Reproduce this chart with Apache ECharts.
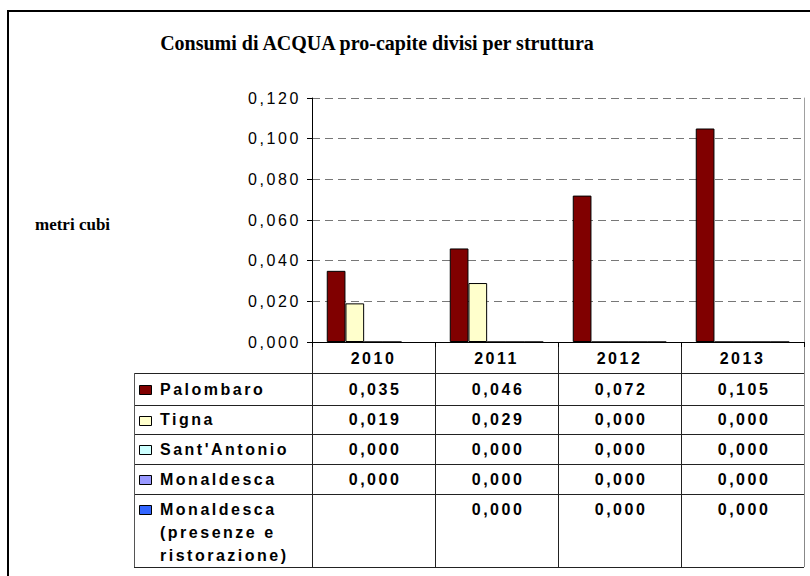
<!DOCTYPE html>
<html>
<head>
<meta charset="utf-8">
<script src="https://cdn.jsdelivr.net/npm/echarts@6/dist/echarts.min.js"></script>
<style>
  html, body { margin: 0; padding: 0; background: #fff; }
  #chart { width: 810px; height: 576px; }
  /* Excel-like wide spacing for the sans text */
  #chart text[style*="Liberation Sans"] { letter-spacing: 2.5px; }
  #chart text[style*="Arial"] { letter-spacing: 2.6px; }
</style>
</head>
<body>
<div id="chart"></div>
<script>
// anni (categorie)
const years = ['2010', '2011', '2012', '2013'];
// strutture (serie)
const seriesNames = ['Palombaro', 'Tigna', "Sant'Antonio", 'Monaldesca', 'Monaldesca (presenze e ristorazione)'];
// etichette righe della tabella dati
const rowLabels = ['Palombaro', 'Tigna', "Sant'Antonio", 'Monaldesca', 'Monaldesca\n(presenze e\nristorazione)'];
// valori in metri cubi
const palombaro = [0.035, 0.046, 0.072, 0.105];
const tigna = [0.019, 0.029, 0.000, 0.000];
const santAntonio = [0.000, 0.000, 0.000, 0.000];
const monaldesca = [0.000, 0.000, 0.000, 0.000];
const monaldescaPresenze = [null, 0.000, 0.000, 0.000];
// asse y
const yMin = 0, yMax = 0.12, yStep = 0.02;

const allValues = [palombaro, tigna, santAntonio, monaldesca, monaldescaPresenze];
const colors = ['#800000', '#FFFFCC', '#CCFFFF', '#9999FF', '#3366FF'];
const SANS = '"Liberation Sans", sans-serif';
const SANS_Y = 'Arial, sans-serif';
const SERIF = '"Liberation Serif", "Times New Roman", serif';

const fmt = v => (v === null || v === undefined) ? '' : v.toFixed(3).replace('.', ',');

const chart = echarts.init(document.getElementById('chart'), null, { renderer: 'svg' });

const option = {
  animation: false,
  backgroundColor: '#fff',
  title: {
    text: 'Consumi di ACQUA pro-capite divisi per struttura',
    left: 372,
    top: 28,
    textAlign: 'center',
    textStyle: { fontFamily: SERIF, fontWeight: 'bold', fontSize: 20, color: '#000' }
  },
  grid: {
    left: 312, right: 6, top: 98, bottom: 234,
    containLabel: false,
    outerBoundsMode: 'none'
  },
  xAxis: {
    type: 'category',
    data: years,
    axisLine: { lineStyle: { color: '#000', width: 1 } },
    axisTick: { show: true, length: 5, lineStyle: { color: '#000' } },
    axisLabel: {
      margin: 8,
      fontFamily: SANS, fontWeight: 'bold', fontSize: 16, color: '#000'
    },
    splitLine: { show: false }
  },
  yAxis: [{
    type: 'value',
    min: yMin, max: yMax, interval: yStep,
    axisLine: { show: true, lineStyle: { color: '#000' } },
    axisTick: { show: true, length: 5, lineStyle: { color: '#000' } },
    axisLabel: {
      margin: 11,
      formatter: fmt,
      fontFamily: SANS_Y, fontSize: 16, color: '#000'
    },
    splitLine: { show: true, lineStyle: { color: '#777', type: [8, 5], width: 1 } }
  }, {
    type: 'value',
    position: 'right',
    min: yMin, max: yMax, interval: yStep,
    axisLine: { show: true, lineStyle: { color: '#a0a0a0' } },
    axisTick: { show: false },
    axisLabel: { show: false },
    splitLine: { show: false }
  }],
  series: seriesNames.map((name, i) => ({
    name: name,
    type: 'bar',
    yAxisIndex: 0,
    data: allValues[i],
    barGap: '0%',
    barCategoryGap: '24%',
    itemStyle: { color: colors[i], borderColor: '#000', borderWidth: 1 }
  }))
};
chart.setOption(option);

// tabella dati sotto il grafico, allineata alle categorie dell'asse x
function drawTable() {
  const c0 = chart.convertToPixel({ xAxisIndex: 0 }, years[0]);
  const c1 = chart.convertToPixel({ xAxisIndex: 0 }, years[1]);
  const colW = c1 - c0;
  const plotLeft = c0 - colW / 2;
  const plotRight = plotLeft + colW * years.length;
  const axisY = chart.convertToPixel({ yAxisIndex: 0 }, 0);
  const tableLeft = 134;
  const headerH = 31;
  const rowH = [32, 29, 30, 30, 73];
  const rowTop = [axisY + headerH];
  rowH.forEach((h, i) => rowTop.push(rowTop[i] + h));
  const tableBottom = rowTop[rowTop.length - 1];
  const els = [];
  const line = (x1, y1, x2, y2, color) => els.push({
    type: 'line', silent: true,
    shape: { x1: x1, y1: y1, x2: x2, y2: y2 },
    style: { stroke: color || '#222', lineWidth: 1 }
  });

  // righe orizzontali
  rowTop.forEach(y => line(tableLeft, Math.round(y) + 0.5, plotRight, Math.round(y) + 0.5));
  // colonne
  line(tableLeft + 0.5, rowTop[0], tableLeft + 0.5, tableBottom, '#555');
  for (let i = 0; i <= years.length; i++) {
    const x = Math.round(plotLeft + i * colW) + 0.5;
    line(x, axisY, x, tableBottom, i === years.length ? '#888' : '#222');
  }

  // celle
  seriesNames.forEach((name, r) => {
    const multi = rowLabels[r].indexOf('\n') >= 0;
    const cy = multi ? rowTop[r] + 15 : rowTop[r] + rowH[r] / 2;
    // chiave colore
    els.push({
      type: 'rect', silent: true,
      shape: { x: 139.5, y: Math.round(cy - 4) + 0.5, width: 12, height: 9 },
      style: { fill: colors[r], stroke: '#000', lineWidth: 1 }
    });
    els.push({
      type: 'text', silent: true,
      x: 160, y: multi ? rowTop[r] + 3.5 : cy,
      style: {
        text: rowLabels[r],
        fontFamily: SANS, fontWeight: 'bold', fontSize: 16, fill: '#000',
        lineHeight: 23,
        textAlign: 'left', textVerticalAlign: multi ? 'top' : 'middle'
      }
    });
    allValues[r].forEach((v, j) => {
      els.push({
        type: 'text', silent: true,
        x: chart.convertToPixel({ xAxisIndex: 0 }, years[j]) + 1.5, y: cy,
        style: {
          text: fmt(v),
          fontFamily: SANS, fontWeight: 'bold', fontSize: 16, fill: '#000',
          textAlign: 'center', textVerticalAlign: 'middle'
        }
      });
    });
  });

  // etichetta asse y
  els.push({
    type: 'text', silent: true,
    x: 35, y: 224,
    style: {
      text: 'metri cubi',
      fontFamily: SERIF, fontWeight: 'bold', fontSize: 17, fill: '#000',
      textAlign: 'left', textVerticalAlign: 'middle'
    }
  });
  // cornice esterna
  els.push({
    type: 'rect', silent: true,
    shape: { x: 8, y: 11, width: 830, height: 620 },
    style: { fill: 'none', stroke: '#000', lineWidth: 2 }
  });

  chart.setOption({ graphic: els });
}
drawTable();
</script>
</body>
</html>
